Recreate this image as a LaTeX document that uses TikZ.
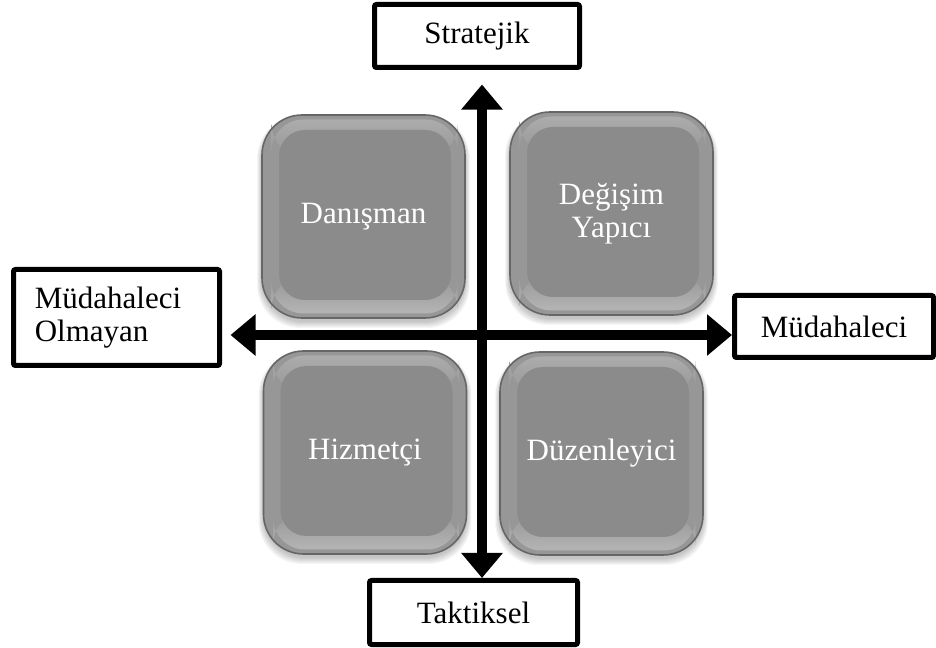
\documentclass[tikz,border=0pt]{standalone}
\usepackage{fontspec}
\setmainfont{Liberation Serif}
\usetikzlibrary{arrows.meta,fadings}

\definecolor{rimedge}{HTML}{666666}
\definecolor{rimfill}{HTML}{979797}
\definecolor{rimtop}{HTML}{ACACAC}
\definecolor{tileface}{HTML}{8B8B8B}

% a streak that is opaque in the middle and fades out at both ends
\tikzfading[name=fade ends, top color=transparent!100, middle color=transparent!0,
  bottom color=transparent!100]

\newcommand\labelfont{\fontsize{23.25}{24.75}\selectfont}

\tikzset{
  axisbox/.style={draw=black, line width=3.75pt, fill=white, rounded corners=1.5pt,
    font=\labelfont, inner sep=0pt},
  tiletext/.style={text=white, font=\labelfont, align=center, inner sep=0pt},
  axisarrow/.style={line width=7.5pt,
    {Triangle[length=18.75pt,width=30pt]}-{Triangle[length=18.75pt,width=30pt]}},
  streak/.style={white, path fading=fade ends},
}

% \tile{name}{cx}{cy}{text}: grey bevelled square with a soft shadow
\newcommand\tile[4]{%
  \begin{scope}[shift={(#2,#3)}]
    % soft shadow, mostly below the tile
    \foreach \k in {1,...,7}{
      \fill[black, opacity=0.035, rounded corners=32pt]
        (-101.5-0.7*\k,-101.5+4-0.5*\k) rectangle (101.5+0.7*\k,101.5+3+\k);
    }
    % rim
    \fill[rimfill, rounded corners=30pt] (-101.5,-101.5) rectangle (101.5,101.5);
    \shade[top color=rimtop, bottom color=rimfill, rounded corners=24pt]
      (-92,-97) rectangle (94,-60);
    \shade[top color=rimfill, bottom color=rimtop!90!white, rounded corners=24pt]
      (-92,60) rectangle (94,97);
    \draw[rimedge, line width=1.2pt, rounded corners=30pt]
      (-101.5,-101.5) rectangle (101.5,101.5);
    % bright streaks on the left and right of the rim
    \fill[streak] (-93,-85) rectangle (-86,85);
    \fill[streak] (-93,-55) rectangle (-86,55);
    \fill[streak] (89,-85) rectangle (95.5,85);
    \fill[streak] (89,-55) rectangle (95.5,55);
    % flat face
    \fill[tileface, rounded corners=19.5pt] (-84.5,-86.5) rectangle (87.5,83.5);
  \end{scope}
  \node[tiletext] (#1) at (#2,#3) {#4};
}

\begin{document}
\begin{tikzpicture}[x=0.75pt, y=-0.75pt]
  \useasboundingbox (0,0) rectangle (936,648);

  % the four role tiles
  \tile{dan}{363.5}{216.5}{Danışman}
  \tile{deg}{611.5}{213.5}{Değişim\\Yapıcı}
  \tile{hiz}{365}{452.5}{Hizmetçi}
  \tile{duz}{601.5}{453.5}{Düzenleyici}

  % axis labels
  \node[axisbox, minimum width=153.75pt, minimum height=47.25pt] (strat) at (477,36) {Stratejik};
  \node[axisbox, minimum width=156pt, minimum height=48pt] (takt) at (473.5,612.5) {Taktiksel};
  \node[axisbox, minimum width=154.5pt, minimum height=72pt, text width=122.5pt,
        align=left, inner xsep=16pt] (nonint) at (116.5,317.5) {Müdahaleci\\Olmayan};
  \node[axisbox, minimum width=149.25pt, minimum height=46.5pt] (int) at (834,326.5) {Müdahaleci};

  % the two axes
  \coordinate (o) at (482,335);
  \draw[axisarrow, shorten <=10.9pt] (o |- strat.south) -- (o |- takt.north);
  \draw[axisarrow, shorten <=6.4pt] (o -| nonint.east) -- (o -| int.west);
\end{tikzpicture}
\end{document}
